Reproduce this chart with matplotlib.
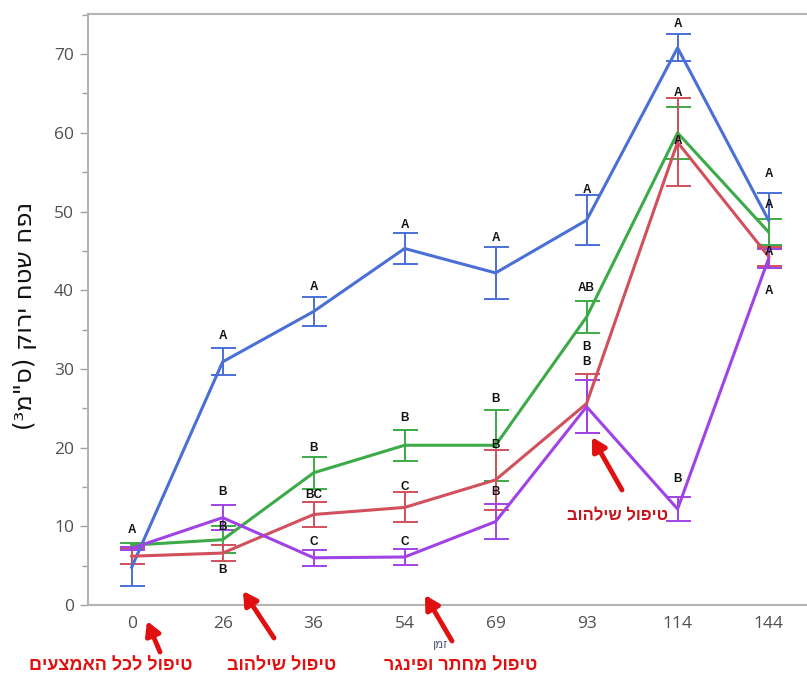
import matplotlib
matplotlib.use('Agg')
import matplotlib.pyplot as plt
from matplotlib.ticker import MultipleLocator

# ימי מדידה (ציר X קטגוריאלי)
days = ['0', '26', '36', '54', '69', '93', '114', '144']

# ממוצעים ושגיאות תקן לכל טיפול
blue_mean = [4.8, 30.9, 37.3, 45.3, 42.2, 48.9, 70.8, 48.9]
blue_err = [2.4, 1.7, 1.8, 2.0, 3.3, 3.2, 1.7, 3.5]
green_mean = [7.6, 8.3, 16.8, 20.3, 20.3, 36.6, 60.0, 47.4]
green_err = [0.3, 1.7, 2.0, 2.0, 4.5, 2.0, 3.3, 1.7]
red_mean = [6.2, 6.6, 11.5, 12.4, 15.9, 25.6, 58.8, 44.3]
red_err = [1.0, 1.0, 1.6, 1.9, 3.8, 3.7, 5.6, 1.2]
purple_mean = [7.2, 11.1, 6.0, 6.1, 10.6, 25.2, 12.2, 44.0]
purple_err = [0.2, 1.6, 1.0, 1.0, 2.2, 3.4, 1.5, 1.2]

# אותיות מובהקות ומיקום הטקסט שלהן (ערכי ציר Y)
blue_let = ['A', 'A', 'A', 'A', 'A', 'A', 'A', 'A']
blue_let_y = [9.5, 34.2, 40.4, 48.3, 46.6, 52.7, 73.8, 54.8]
green_let = ['', 'B', 'B', 'B', 'B', 'AB', 'A', 'A']
green_let_y = [0, 9.9, 20.0, 23.8, 26.2, 40.3, 59.0, 50.8]
red_let = ['', 'B', 'BC', 'C', 'B', 'B', 'A', 'A']
red_let_y = [0, 4.4, 14.0, 15.0, 20.3, 32.8, 65.0, 44.9]
purple_let = ['', 'B', 'C', 'C', 'B', 'B', 'B', 'A']
purple_let_y = [0, 14.4, 8.0, 8.0, 14.4, 30.9, 16.0, 39.9]

W, H = 807, 679


def heb(s):
    """matplotlib לא מטפל בכיווניות - הופכים ידנית ומחליפים סוגריים."""
    r = s[::-1]
    return r.translate(str.maketrans('()', ')('))


def px(x, y):
    return (x / W, 1 - y / H)


fig = plt.figure(figsize=(W / 100, H / 100), dpi=100)
ax = fig.add_axes([88 / W, 1 - 605 / H, 1 - 88 / W + 0.02, (605 - 14) / H])

xs = list(range(len(days)))
series = [
    (blue_mean, blue_err, blue_let, blue_let_y, '#4a6fd6'),
    (green_mean, green_err, green_let, green_let_y, '#3caa48'),
    (red_mean, red_err, red_let, red_let_y, '#d2505c'),
    (purple_mean, purple_err, purple_let, purple_let_y, '#a043e6'),
]

for mean, err, lets, lets_y, col in series:
    ax.errorbar(xs, mean, yerr=err, color=col, lw=2.2, elinewidth=1.4,
                capsize=9, capthick=1.4, zorder=3)
    for x, l, ly in zip(xs, lets, lets_y):
        if l:
            ax.text(x, ly, l, ha='center', va='center', fontsize=8.5,
                    fontweight='bold', family=['Liberation Sans', 'DejaVu Sans'],
                    color='#111111', zorder=5)

ax.set_xlim(-0.48, 7.6)
ax.set_ylim(0, 75.1)
ax.set_xticks(xs)
ax.set_xticklabels(days)
ax.yaxis.set_major_locator(MultipleLocator(10))
ax.yaxis.set_minor_locator(MultipleLocator(5))
ax.tick_params(axis='x', length=0, pad=8, labelsize=12.5, labelcolor='#505050')
ax.tick_params(axis='y', which='major', length=6, width=1, color='#a0a0a0',
               labelsize=12.5, labelcolor='#505050', pad=4)
ax.tick_params(axis='y', which='minor', length=4, width=1, color='#a0a0a0')
for lab in ax.get_xticklabels() + ax.get_yticklabels():
    lab.set_family(['Open Sans', 'DejaVu Sans'])
for side in ['left', 'bottom', 'top']:
    ax.spines[side].set_color('#b4b4b4')
    ax.spines[side].set_linewidth(1.5)
ax.spines['right'].set_visible(False)

# כותרות צירים
fig.text(*px(25, 316), heb('נפח שטח ירוק (ס"מ³)'), rotation=90, ha='center',
         va='center', fontsize=17.5, family=['DejaVu Sans'], color='#111111')
fig.text(*px(440, 645), heb('זמן'), ha='center', va='center', fontsize=8.5,
         family=['DejaVu Sans'], color='#44557a')

# חיצים וטקסטים אדומים
notes = [
    ('טיפול לכל האמצעים', (111, 666), (160, 652), (147, 621), 13, '#e01010'),
    ('טיפול שילהוב', (282, 666), (274, 638), (243, 591), 13, '#e01010'),
    ('טיפול מחתר ופינגר', (461, 666), (452, 641), (425, 595), 13, '#e01010'),
    ('טיפול שילהוב', (618, 516), (622, 490), (592, 437), 12, '#c4161f'),
]
for txt, tpos, tail, head, fs, col in notes:
    fig.text(*px(*tpos), heb(txt), ha='center', va='center', fontsize=fs,
             fontweight='bold', color=col,
             family=['Liberation Sans', 'DejaVu Sans'])
    ax.annotate('', xy=px(*head), xytext=px(*tail), xycoords='figure fraction',
                textcoords='figure fraction', annotation_clip=False,
                arrowprops=dict(arrowstyle='-|>,head_length=0.8,head_width=0.45',
                                color='#e01010', lw=3.5, shrinkA=0, shrinkB=0))

fig.savefig('out.png', dpi=100)
plt.close(fig)
